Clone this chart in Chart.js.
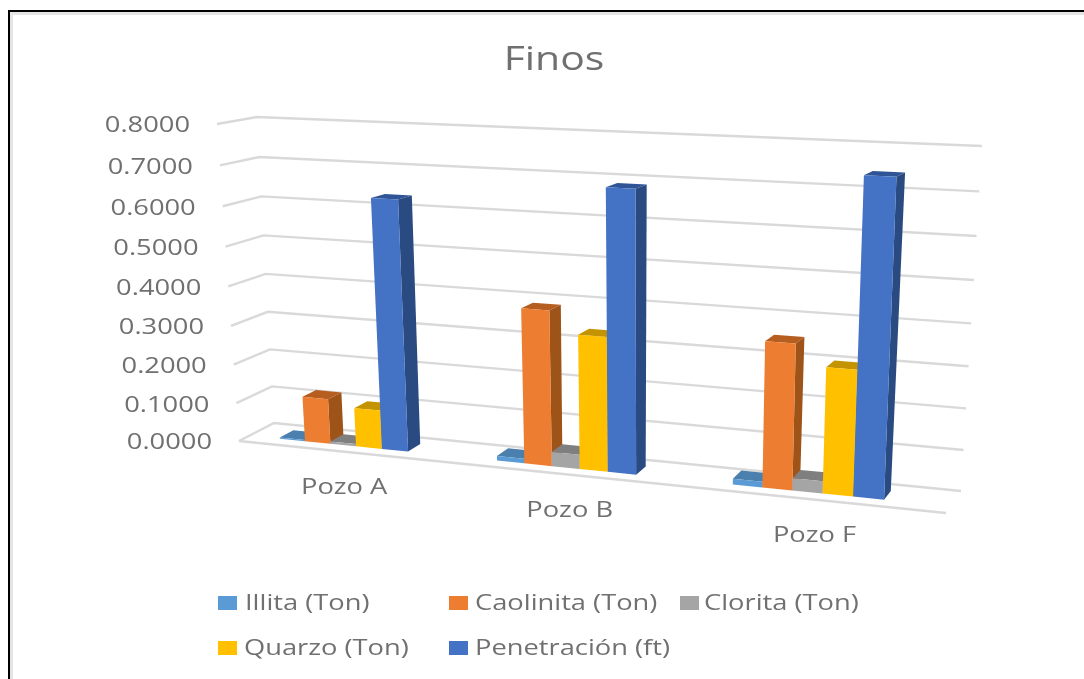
<!DOCTYPE html>
<html>
<head>
<meta charset="utf-8">
<script src="https://cdn.jsdelivr.net/npm/chart.js@4"></script>
<style>
  html, body { margin: 0; background: #fff; overflow: hidden; }
  #frame { position: absolute; left: 8px; top: 10px; right: -10px; bottom: -10px; border-left: 2px solid #000; border-top: 2px solid #000; box-shadow: inset 3px 3px 0 #e4e4e4; pointer-events: none; }
</style>
</head>
<body>
<canvas id="chart" width="1084" height="679" style="display:block"></canvas>
<div id="frame"></div>
<script>
const chartTitle = 'Finos';
const categories = ['Pozo A', 'Pozo B', 'Pozo F'];
const seriesNames = ['Illita (Ton)', 'Caolinita (Ton)', 'Clorita (Ton)', 'Quarzo (Ton)', 'Penetración (ft)'];
const illita = [0.003, 0.012, 0.014];
const caolinita = [0.117, 0.387, 0.352];
const clorita = [0.006, 0.036, 0.03];
const quarzo = [0.1, 0.333, 0.302];
const penetracion = [0.632, 0.687, 0.742];

const FRONT = ['#5B9BD5', '#ED7D31', '#A5A5A5', '#FFC000', '#4472C4'];
const SIDE = ['#3F73A3', '#9E5318', '#6E6E6E', '#A67C00', '#2A4A82'];
const TOP = ['#4A7FAE', '#B65E20', '#7F7F7F', '#C49400', '#2F5597'];
const TEXT = '#707070';
const GRID = '#d9d9d9';

// unit square -> quad, v = 0 at the floor
function quadMap(p00, p10, p11, p01) {
  const dx1 = p10[0] - p11[0], dx2 = p01[0] - p11[0], sx = p00[0] - p10[0] + p11[0] - p01[0];
  const dy1 = p10[1] - p11[1], dy2 = p01[1] - p11[1], sy = p00[1] - p10[1] + p11[1] - p01[1];
  const det = dx1 * dy2 - dx2 * dy1;
  const g = (sx * dy2 - dx2 * sy) / det;
  const h = (dx1 * sy - sx * dy1) / det;
  const a = p10[0] - p00[0] + g * p10[0], b = p01[0] - p00[0] + h * p01[0];
  const d = p10[1] - p00[1] + g * p10[1], e = p01[1] - p00[1] + h * p01[1];
  return (u, v) => {
    const q = g * u + h * v + 1;
    return [(a * u + b * v + p00[0]) / q, (d * u + e * v + p00[1]) / q];
  };
}

const frontPlane = quadMap([239, 441], [946, 513], [962, 156], [217, 124]);
const backPlane = quadMap([274, 423], [961, 491], [982, 146], [257, 117]);

// w = 0 front of the floor, w = 1 back wall
function project(u, v, w) {
  const f = frontPlane(u, v), b = backPlane(u, v);
  return [f[0] + (b[0] - f[0]) * w, f[1] + (b[1] - f[1]) * w];
}

function poly(ctx, pts, color) {
  ctx.fillStyle = color;
  ctx.beginPath();
  pts.forEach((p, i) => i ? ctx.lineTo(p[0], p[1]) : ctx.moveTo(p[0], p[1]));
  ctx.closePath();
  ctx.fill();
}

function line(ctx, pts) {
  ctx.beginPath();
  pts.forEach((p, i) => i ? ctx.lineTo(p[0], p[1]) : ctx.moveTo(p[0], p[1]));
  ctx.stroke();
}

// the reference text is stretched sideways
function wideText(ctx, str, x, y, size, align) {
  ctx.save();
  ctx.font = size + "px 'Open Sans'";
  ctx.fillStyle = TEXT;
  ctx.textAlign = align || 'left';
  ctx.textBaseline = 'middle';
  ctx.translate(x, y + size * 0.1);
  ctx.scale(1.24, 1);
  ctx.fillText(str, 0, 0);
  ctx.restore();
}

const perspective = {
  id: 'perspective',
  beforeDatasetsDraw(chart) {
    const ctx = chart.ctx, area = chart.chartArea;
    const yScale = chart.scales.y;
    const toV = py => (area.bottom - py) / area.height;

    ctx.save();
    ctx.strokeStyle = GRID;
    ctx.lineWidth = 2.4;
    yScale.ticks.forEach(t => {
      const v = toV(yScale.getPixelForValue(t.value));
      line(ctx, [project(0, v, 0), project(0, v, 1), project(1, v, 1)]);
    });
    line(ctx, [project(0, 0, 0), project(1, 0, 0)]);

    // bars stand a little left of centre and mid-depth on the floor
    const SHIFT = -0.018, W0 = 0.3, W1 = 0.7;
    categories.forEach((c, i) => {
      chart.data.datasets.forEach((ds, s) => {
        const bar = chart.getDatasetMeta(s).data[i];
        const u0 = (bar.x - bar.width / 2 - area.left) / area.width + SHIFT;
        const u1 = (bar.x + bar.width / 2 - area.left) / area.width + SHIFT;
        const vb = toV(bar.base), vt = toV(bar.y);
        poly(ctx, [project(u0, vt, W0), project(u1, vt, W0), project(u1, vt, W1), project(u0, vt, W1)], TOP[s]);
        poly(ctx, [project(u1, vb, W0), project(u1, vb, W1), project(u1, vt, W1), project(u1, vt, W0)], SIDE[s]);
        poly(ctx, [project(u0, vb, W0), project(u1, vb, W0), project(u1, vt, W0), project(u0, vt, W0)], FRONT[s]);
      });
    });
    ctx.restore();
    return false;
  },
  afterDraw(chart) {
    const ctx = chart.ctx, area = chart.chartArea;
    const yScale = chart.scales.y, xScale = chart.scales.x;

    wideText(ctx, chartTitle, 554, 57, 33, 'center');

    yScale.ticks.forEach(t => {
      const v = (area.bottom - yScale.getPixelForValue(t.value)) / area.height;
      const p = project(0, v, 0);
      wideText(ctx, t.value.toFixed(4), p[0] - 27, p[1], 22, 'right');
    });

    categories.forEach((c, i) => {
      const u = (xScale.getPixelForValue(i) - area.left) / area.width;
      const p = project(u, 0, 0);
      wideText(ctx, c, p[0] - 1, p[1] + 34, 22, 'center');
    });

    const slots = [[218, 603], [449, 603], [680, 603], [218, 648], [449, 648]];
    chart.data.datasets.forEach((ds, s) => {
      const [x, y] = slots[s];
      ctx.fillStyle = FRONT[s];
      ctx.fillRect(x, y - 7, 19, 14);
      wideText(ctx, ds.label, x + (s === 2 ? 24 : s === 0 ? 27 : 26), y - 1, 22);
    });
  },
};

new Chart(document.getElementById('chart'), {
  type: 'bar',
  data: {
    labels: categories,
    datasets: [illita, caolinita, clorita, quarzo, penetracion].map((values, s) => ({
      label: seriesNames[s],
      data: values,
      backgroundColor: FRONT[s],
      barPercentage: 1,
      categoryPercentage: 0.6,
    })),
  },
  options: {
    responsive: false,
    animation: false,
    plugins: { legend: { display: false }, title: { display: false }, tooltip: { enabled: false } },
    scales: {
      x: { display: false },
      y: { display: false, min: 0, max: 0.8, ticks: { stepSize: 0.1 } },
    },
  },
  plugins: [perspective],
});
</script>
</body>
</html>
